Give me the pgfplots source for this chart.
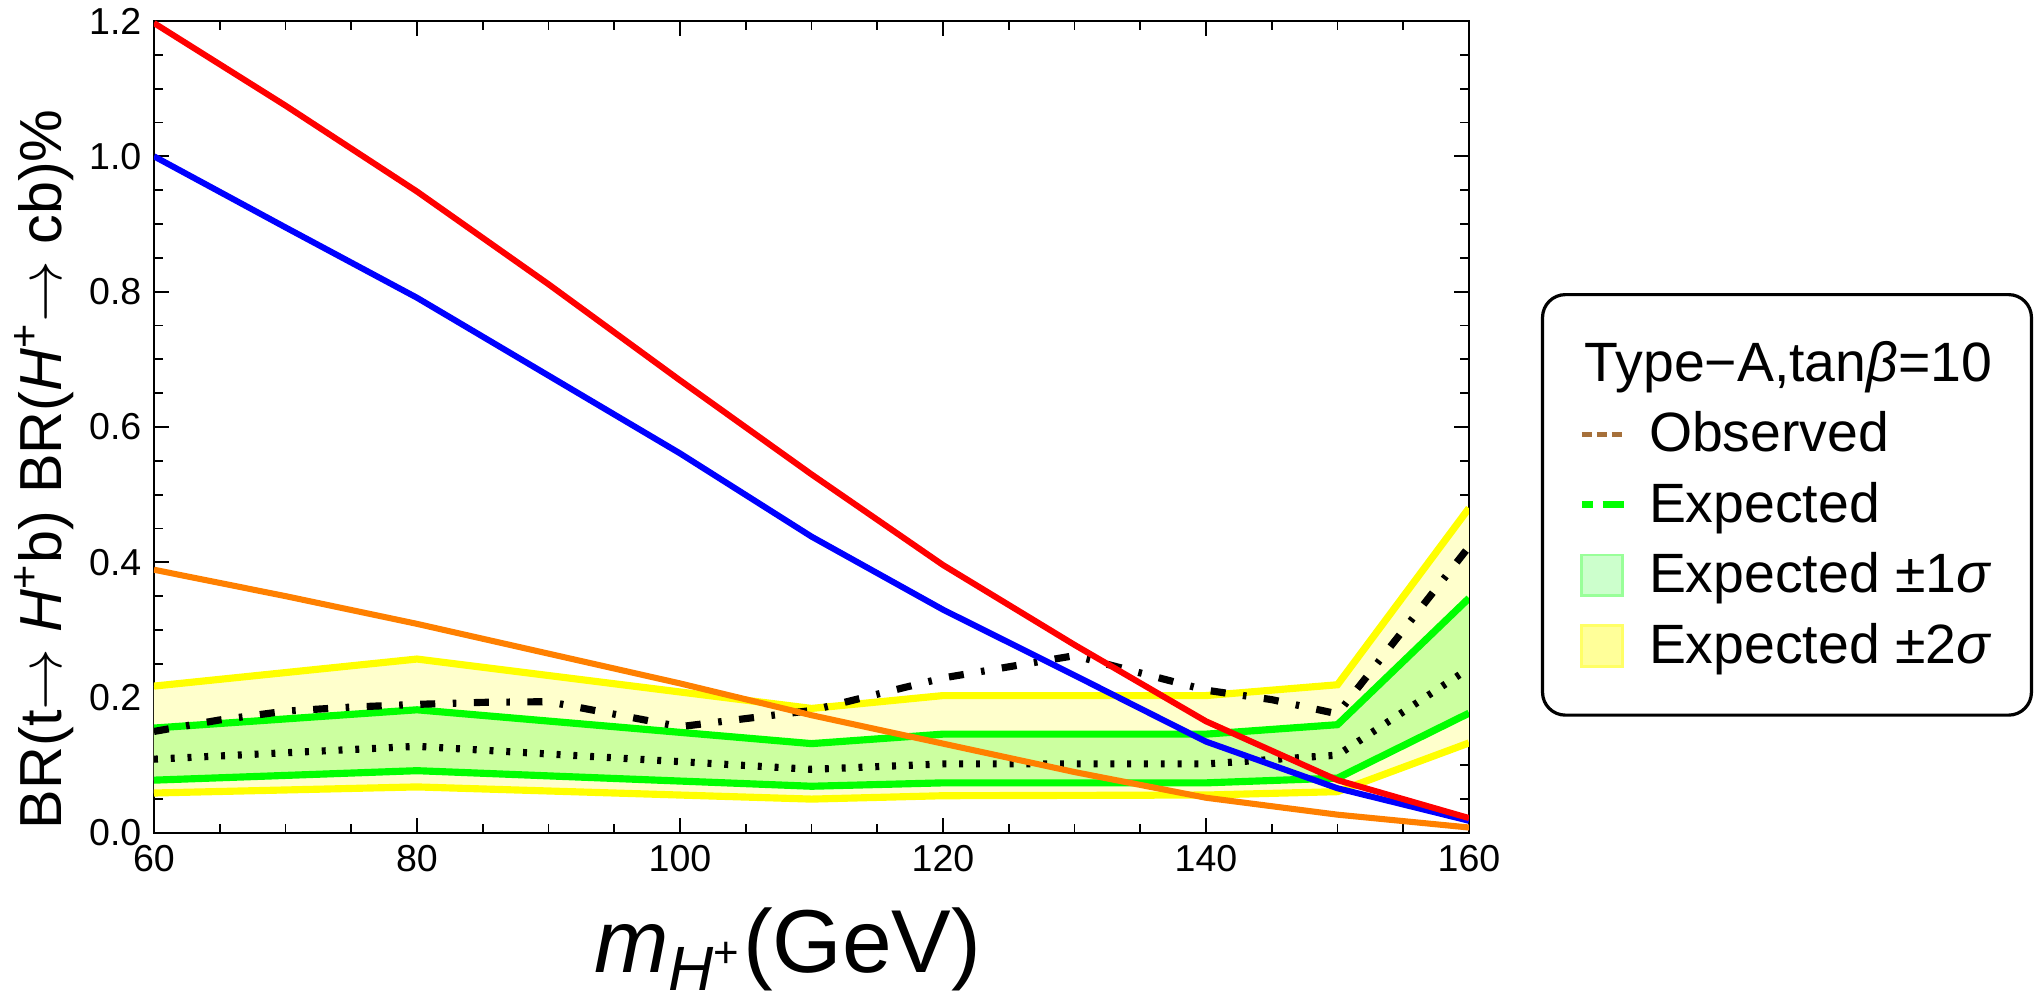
\documentclass[border=0pt]{standalone}
\usepackage{fontspec}
\setmainfont{Liberation Sans}
\usepackage{pgfplots}
\usepackage{pgfplotstable}
\pgfplotsset{compat=1.18}
\usepgfplotslibrary{fillbetween}

\definecolor{bandY}{RGB}{255,255,204}
\definecolor{bandG}{RGB}{204,255,160}
\definecolor{lineY}{RGB}{255,255,0}
\definecolor{lineG}{RGB}{0,255,0}
\definecolor{obsbrown}{RGB}{166,112,58}
\definecolor{orangeL}{RGB}{255,128,0}
\definecolor{legG}{RGB}{204,255,204}
\definecolor{legGd}{RGB}{153,255,153}
\definecolor{legY}{RGB}{255,255,153}
\definecolor{legYd}{RGB}{255,255,102}

\pgfplotstableread{
x yl gl med gu yu
60 0.059 0.078 0.109 0.155 0.217
80 0.068 0.092 0.128 0.182 0.257
110 0.050 0.069 0.094 0.132 0.184
120 0.055 0.074 0.102 0.146 0.203
140 0.056 0.074 0.102 0.146 0.203
150 0.061 0.081 0.115 0.160 0.219
160 0.133 0.177 0.243 0.347 0.480
}\bands

\pgfplotstableread{
x obs
60 0.150
65 0.167
70 0.180
75 0.186
80 0.190
85 0.193
90 0.194
100 0.157
110 0.181
120 0.229
130 0.262
140 0.211
145 0.197
150 0.176
160 0.423
}\observed

\pgfplotstableread{
x red blue orange
60 1.197 1.000 0.389
70 1.075 0.895 0.350
80 0.948 0.791 0.309
90 0.811 0.676 0.265
100 0.669 0.561 0.221
110 0.530 0.438 0.174
120 0.396 0.330 0.132
130 0.278 0.233 0.090
140 0.165 0.135 0.052
150 0.078 0.066 0.027
160 0.022 0.018 0.008
}\theory

\begin{document}
\begin{tikzpicture}
\begin{axis}[
  name=ax,
  scale only axis,
  width=12.931cm, height=7.984cm,
  xmin=60, xmax=160, ymin=0, ymax=1.2,
  xtick={60,80,100,120,140,160},
  ytick={0,0.2,0.4,0.6,0.8,1.0,1.2},
  minor x tick num=3, minor y tick num=3,
  tick align=inside,
  major tick length=4.2pt, minor tick length=2.5pt,
  every tick/.style={black, line width=0.5pt},
  axis line style={line width=0.6pt},
  /pgf/number format/assume math mode=true,
  tick label style={font=\fontsize{10.5}{12}\selectfont},
  yticklabel style={/pgf/number format/.cd, fixed, fixed zerofill, precision=1},
  xticklabel style={/pgf/number format/.cd, fixed, precision=0},
  xlabel={\textit{m}\textsubscript{\textit{H}\textsuperscript{+}}(GeV)},
  ylabel={BR(t$\rightarrow$ \textit{H}\textsuperscript{+}b) BR(\textit{H}\textsuperscript{+}$\rightarrow$ cb)\%},
  xlabel style={at={(axis description cs:0.482,-0.144)}, anchor=center, font=\fontsize{25}{29}\selectfont},
  ylabel style={at={(axis description cs:-0.0835,0.448)}, anchor=center, inner sep=0pt, font=\fontsize{16.6}{20}\selectfont},
  legend style={at={(axis description cs:1.0547,0.665)}, anchor=north west,
    draw=black, line width=0.9pt, rounded corners=6.4pt,
    inner xsep=10pt, inner ysep=12pt,
    nodes={inner sep=1pt},
    font=\fontsize{15.5}{18}\selectfont, row sep=5pt, column sep=5pt},
  legend cell align=left,
]
% invisible band boundaries
\addplot[draw=none, name path=yu, forget plot] table[x=x,y=yu]{\bands};
\addplot[draw=none, name path=yl, forget plot] table[x=x,y=yl]{\bands};
\addplot[draw=none, name path=gu, forget plot] table[x=x,y=gu]{\bands};
\addplot[draw=none, name path=gl, forget plot] table[x=x,y=gl]{\bands};
\addplot[fill=bandY, draw=none, forget plot] fill between[of=yu and yl];
\addplot[fill=bandG, draw=none, forget plot] fill between[of=gu and gl];
% band lines
\addplot[lineY, line width=2pt, forget plot] table[x=x,y=yu]{\bands};
\addplot[lineY, line width=2pt, forget plot] table[x=x,y=yl]{\bands};
\addplot[lineG, line width=2pt, forget plot] table[x=x,y=gu]{\bands};
\addplot[lineG, line width=2pt, forget plot] table[x=x,y=gl]{\bands};
% expected median
\addplot[black, line width=2pt, dash pattern=on 1.1pt off 3.6pt, forget plot] table[x=x,y=med]{\bands};
% observed
\addplot[black, line width=2pt, dash pattern=on 4.2pt off 4.9pt on 1pt off 4.9pt, forget plot] table[x=x,y=obs]{\observed};
% theory curves
\addplot[orangeL, line width=1.7pt, forget plot] table[x=x,y=orange]{\theory};
\addplot[blue, line width=1.7pt, forget plot] table[x=x,y=blue]{\theory};
\addplot[red, line width=1.7pt, forget plot] table[x=x,y=red]{\theory};

% legend
\addlegendimage{empty legend}
\addlegendentry{\hspace*{-18pt}Type−A,tan\textit{β}=10}
\addlegendimage{legend image code/.code={\draw[obsbrown, line width=1.5pt, sharp corners, dash pattern=on 2.8pt off 1.4pt] (0pt,0pt) -- (12pt,0pt);}}
\addlegendentry{Observed}
\addlegendimage{legend image code/.code={\draw[lineG, line width=2pt, sharp corners, dash pattern=on 3pt off 2.8pt on 6pt off 3pt] (0pt,0pt) -- (11.8pt,0pt);}}
\addlegendentry{Expected}
\addlegendimage{legend image code/.code={\draw[fill=legG, draw=legGd, line width=0.8pt, sharp corners] (0pt,-5.7pt) rectangle (11.4pt,5.7pt);}}
\addlegendentry{Expected ±1\textit{σ}}
\addlegendimage{legend image code/.code={\draw[fill=legY, draw=legYd, line width=0.8pt, sharp corners] (0pt,-5.7pt) rectangle (11.4pt,5.7pt);}}
\addlegendentry{Expected ±2\textit{σ}}
\end{axis}
\pgfresetboundingbox
\path ([shift={(-1.514cm,-1.701cm)}]ax.south west) rectangle ([shift={(5.556cm,0.2065cm)}]ax.north east);
\end{tikzpicture}
\end{document}
